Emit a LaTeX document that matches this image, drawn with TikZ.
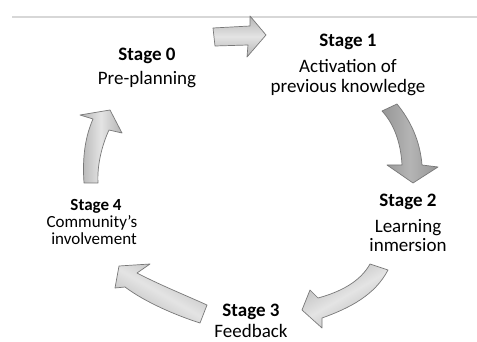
\documentclass[tikz,border=0pt]{standalone}
\usepackage{fontspec}
\setmainfont{Carlito}
\definecolor{arrowfill}{RGB}{180,180,180}
\definecolor{arrowlight}{RGB}{228,228,228}
\definecolor{arrowdark}{RGB}{150,150,150}
\definecolor{arrowline}{RGB}{120,120,120}
\definecolor{rulegray}{RGB}{215,215,215}
\begin{document}
\begin{tikzpicture}[x=1pt,y=-1pt,
  lbl/.style={font=\fontsize{19}{22}\selectfont, anchor=base, inner sep=0pt},
  lblb/.style={lbl, font=\fontsize{19}{22}\selectfont\bfseries},
  lbls/.style={lbl, font=\fontsize{17}{20}\selectfont},
  lblsb/.style={lbl, font=\fontsize{17}{20}\selectfont\bfseries},
  blk/.style={draw=arrowline, line width=0.7pt, line join=round,
    top color=arrowfill, bottom color=arrowfill, middle color=arrowlight},
  blkdark/.style={blk, top color=arrowdark, bottom color=arrowdark, middle color=arrowfill}]
\fill[white] (0,0) rectangle (477,342);
\useasboundingbox (0,0) rectangle (477,342);
% top rule
\draw[line width=1.5pt, rulegray] (12,17) -- (477,17);
% arrows
\path[blk, shading angle=0] (213,28) -- (250,26) -- (250,16) -- (266,35) -- (247,57) -- (248,45) -- (215,46) -- cycle;
\path[blkdark, shading angle=90] (382,111) -- (397,104) .. controls (410,120) and (420,140) .. (422,165) -- (438,167) -- (413,183) -- (387,165) -- (402,165) .. controls (401,145) and (395,125) .. (382,111) -- cycle;
\path[blk, shading angle=30] (370,264) .. controls (360,282) and (340,292) .. (318,298) -- (310,290) -- (302,310) -- (322,328) -- (322,318) .. controls (350,308) and (375,295) .. (388,270) -- cycle;
\path[blk, shading angle=-30] (119,266) -- (150,264) -- (137,273) .. controls (160,285) and (185,295) .. (207,305) -- (200,323) .. controls (175,315) and (145,302) .. (125,287) -- (115,288) -- cycle;
\path[blk, shading angle=90] (84,183) .. controls (82,155) and (86,135) .. (93,119) -- (80,115) -- (110,110) -- (122,133) -- (109,130) .. controls (102,145) and (97,165) .. (98,183) -- cycle;
% labels
\node[lblb] (s0t) at (147,60.7) {Stage 0};
\node[lbl]  (s0a) at (147,85) {Pre-planning};
\node[lblb] (s1t) at (348,46.7) {Stage 1};
\node[lbl]  (s1a) at (348,72.5) {Activation of};
\node[lbl]  (s1b) at (348,92.5) {previous knowledge};
\node[lblb] (s2t) at (408,207) {Stage 2};
\node[lbl]  (s2a) at (408,233) {Learning};
\node[lbl]  (s2b) at (408,251.5) {inmersion};
\node[lblb] (s3t) at (251,316) {Stage 3};
\node[lbl]  (s3a) at (251,337.5) {Feedback};
\node[lblsb] (s4t) at (96,210.7) {Stage 4};
\node[lbls]  (s4a) at (92,227) {Community’s};
\node[lbls]  (s4b) at (94,244) {involvement};
\end{tikzpicture}
\end{document}
